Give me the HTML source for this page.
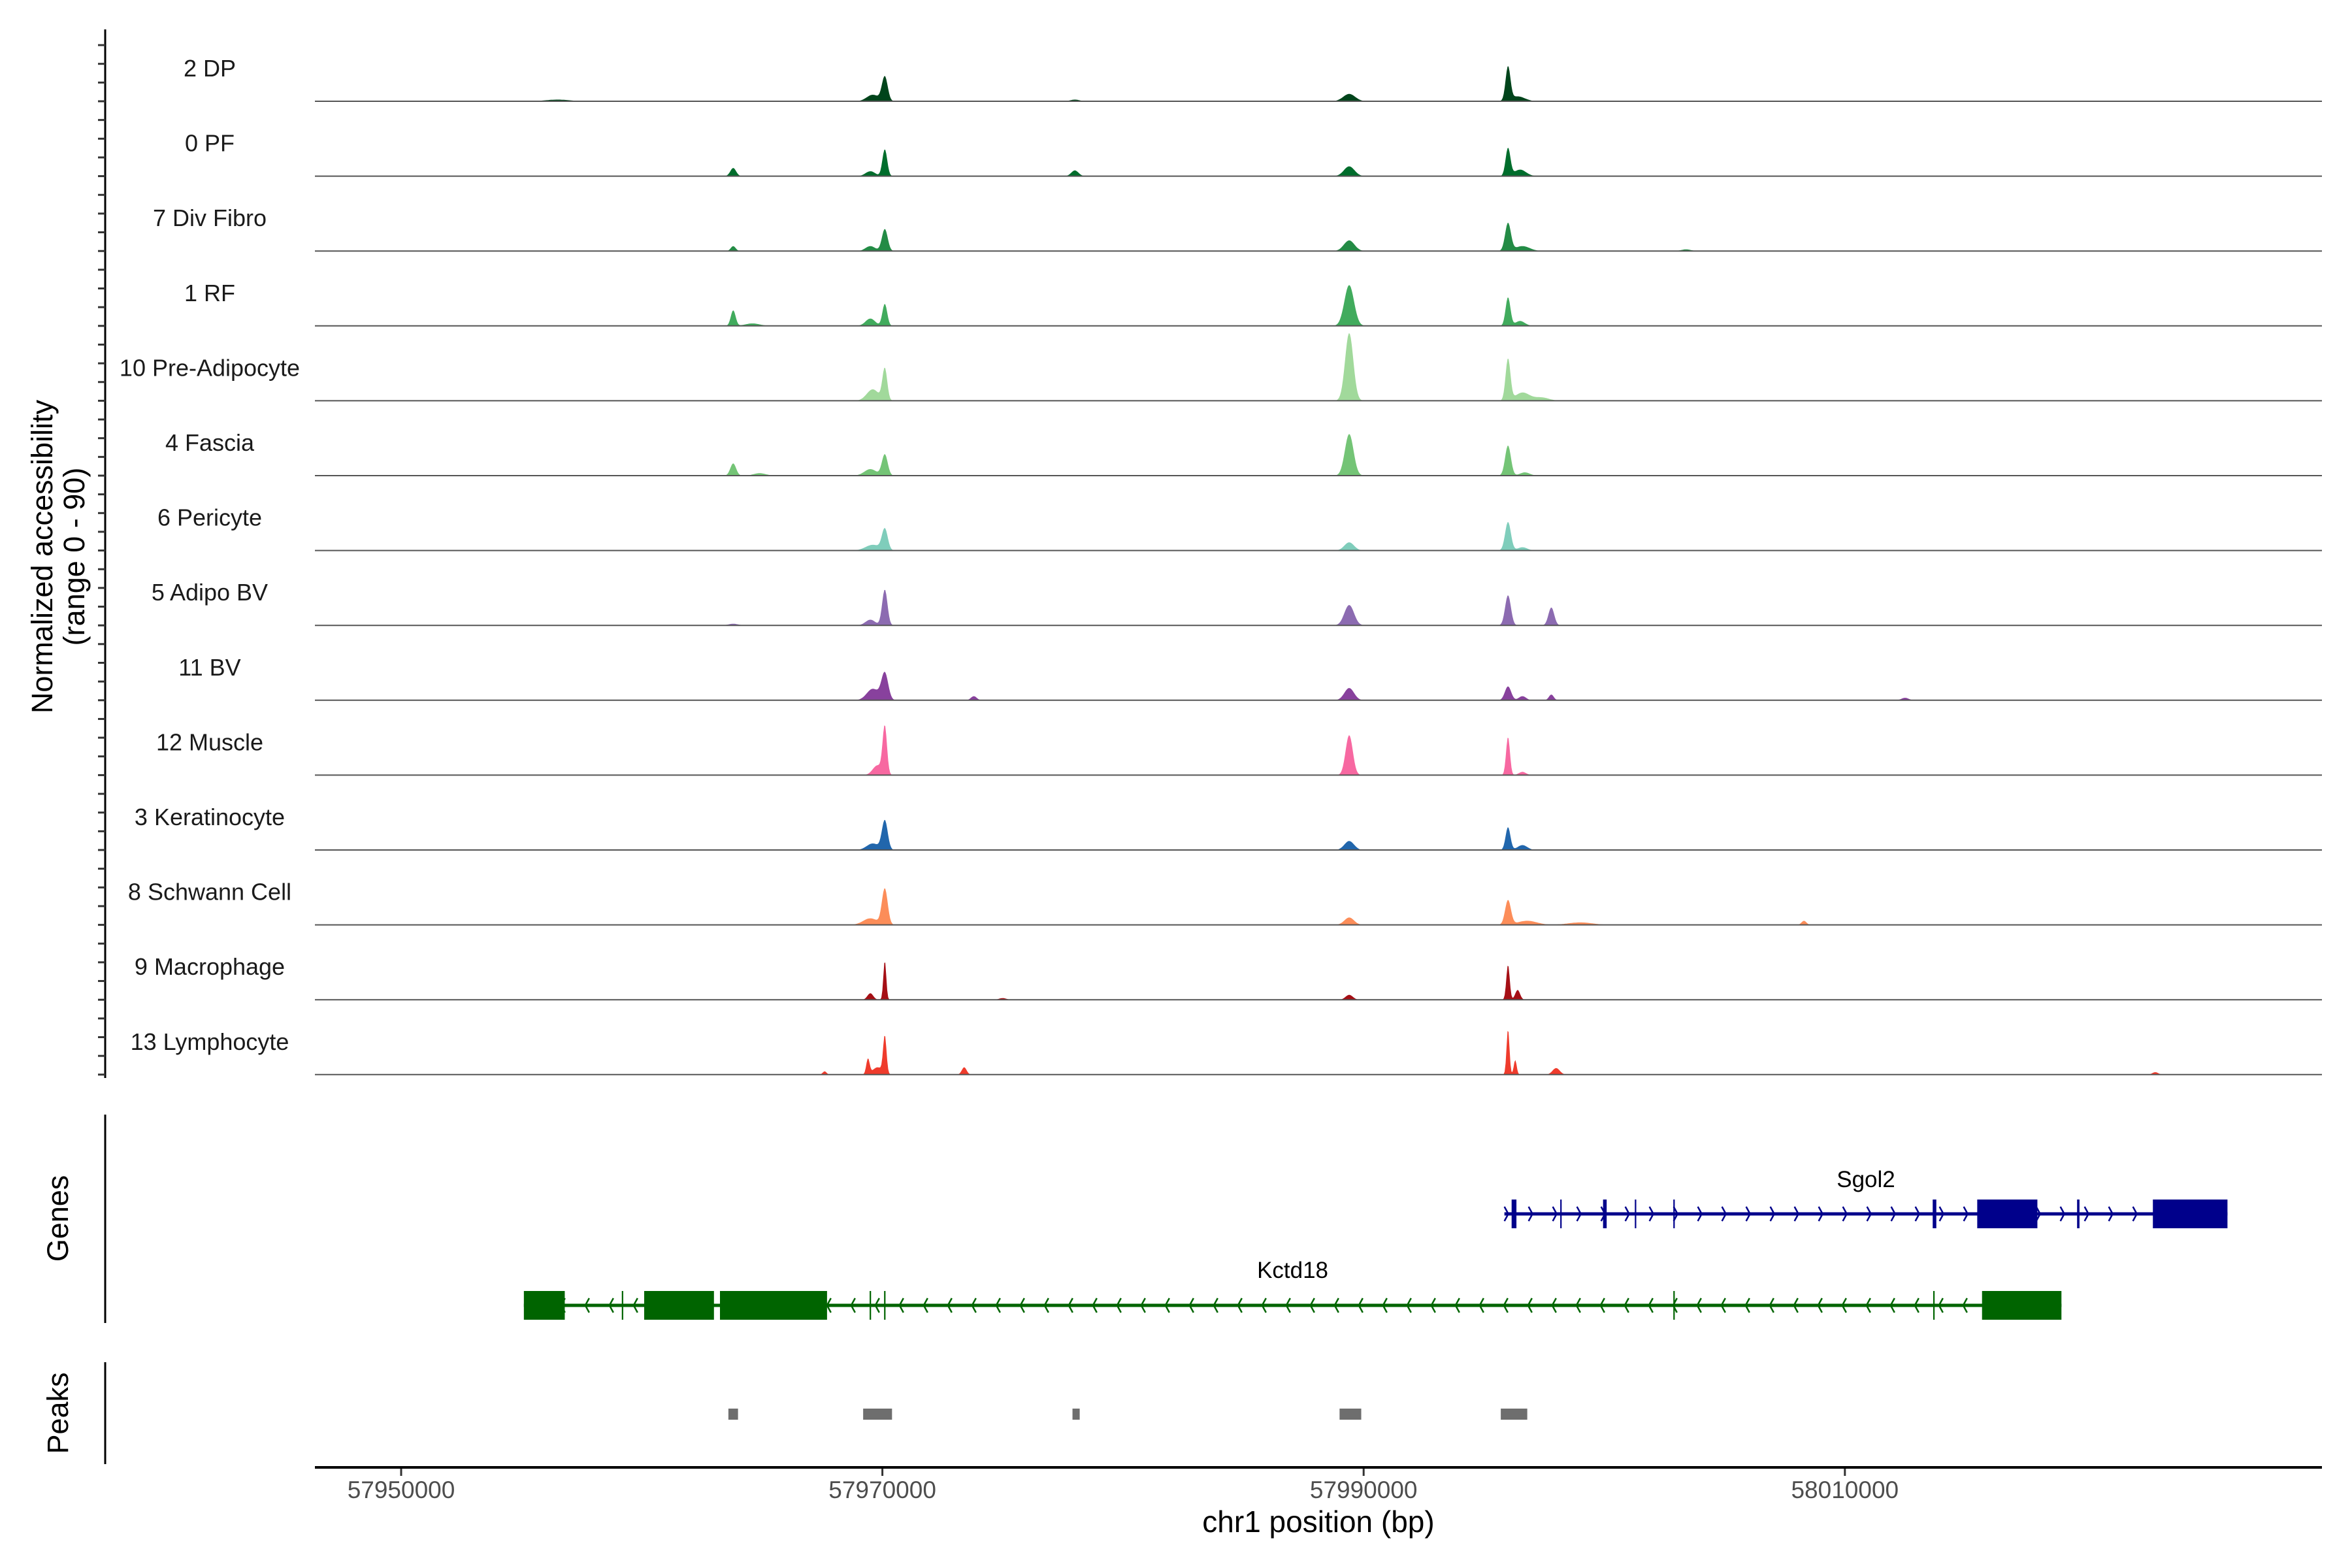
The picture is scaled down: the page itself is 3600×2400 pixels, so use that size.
<!DOCTYPE html>
<html><head><meta charset="utf-8"><style>
html,body{margin:0;padding:0;background:#fff}
svg{display:block}
text{font-family:"Liberation Sans",Arial,sans-serif}
</style></head><body>
<svg id="chart" width="3600" height="2400" viewBox="0 0 3600 2400" xmlns="http://www.w3.org/2000/svg">
<g id="tracks"></g>
<g id="genes"></g>
<g id="peaks"></g>
<g id="axes"></g>
<text transform="translate(80,852) rotate(-90)" text-anchor="middle" font-size="45" fill="#000">Normalized accessibility</text>
<text transform="translate(129,852) rotate(-90)" text-anchor="middle" font-size="45" fill="#000">(range 0 - 90)</text>
<text transform="translate(104,1865) rotate(-90)" text-anchor="middle" font-size="45" fill="#000">Genes</text>
<text transform="translate(104,2163) rotate(-90)" text-anchor="middle" font-size="45" fill="#000">Peaks</text>
<text x="2018" y="2345" text-anchor="middle" font-size="46" fill="#000">chr1 position (bp)</text>
</svg>
<script>
const trackNames = ["2 DP","0 PF","7 Div Fibro","1 RF","10 Pre-Adipocyte","4 Fascia","6 Pericyte","5 Adipo BV","11 BV","12 Muscle","3 Keratinocyte","8 Schwann Cell","9 Macrophage","13 Lymphocyte"];
const trackColors = ["#00441b","#006d2c","#238b45","#41ab5d","#a1d99b","#74c476","#7fcdbb","#8c6bb1","#88419d","#f768a1","#2166ac","#fc8d59","#a50f15","#ef3b2c"];
// peaks per track: [center kb, value (0-90), width kb]
const peaks0 = [[57970.1,30,0.12],[57969.6,8,0.25],[57989.4,9,0.25],[57996.0,41,0.1],[57996.4,6,0.3],[57978.0,2,0.2],[57956.5,2,0.5]];
const peaks1 = [[57970.1,33,0.1],[57969.5,6,0.2],[57963.8,10,0.12],[57978.0,7,0.15],[57989.4,12,0.22],[57996.0,34,0.1],[57996.5,8,0.25]];
const peaks2 = [[57970.1,27,0.12],[57969.5,6,0.2],[57963.8,6,0.1],[57989.4,13,0.22],[57996.0,34,0.12],[57996.6,6,0.3],[58003.4,2,0.2]];
const peaks3 = [[57970.1,27,0.1],[57969.5,9,0.2],[57963.8,19,0.1],[57964.6,3,0.3],[57989.4,50,0.2],[57996.0,35,0.1],[57996.5,6,0.2]];
const peaks4 = [[57970.1,39,0.1],[57969.6,14,0.25],[57989.4,83,0.17],[57996.0,51,0.1],[57996.6,10,0.3],[57997.4,4,0.3]];
const peaks5 = [[57970.1,26,0.12],[57969.5,8,0.25],[57963.8,15,0.12],[57964.9,3,0.25],[57989.4,51,0.18],[57996.0,37,0.12],[57996.7,4,0.2]];
const peaks6 = [[57970.1,26,0.12],[57969.6,7,0.3],[57989.4,10,0.2],[57996.0,35,0.12],[57996.6,4,0.2]];
const peaks7 = [[57970.1,44,0.11],[57969.5,7,0.2],[57989.4,25,0.2],[57996.0,37,0.12],[57997.8,22,0.12],[57963.8,2,0.2]];
const peaks8 = [[57970.1,33,0.14],[57969.6,14,0.25],[57973.8,5,0.12],[57989.4,15,0.2],[57996.0,17,0.13],[57996.6,5,0.15],[57997.8,7,0.1],[58012.5,3,0.15]];
const peaks9 = [[57970.1,58,0.09],[57969.8,12,0.2],[57989.4,49,0.15],[57996.0,47,0.08],[57996.6,4,0.15]];
const peaks10 = [[57970.1,36,0.12],[57969.6,8,0.25],[57989.4,11,0.2],[57996.0,28,0.1],[57996.6,6,0.2]];
const peaks11 = [[57970.1,44,0.12],[57969.5,8,0.3],[57989.4,9,0.2],[57996.0,30,0.12],[57996.8,5,0.4],[57999.0,3,0.5],[58008.3,5,0.1]];
const peaks12 = [[57970.1,48,0.06],[57969.5,8,0.12],[57989.4,6,0.15],[57996.0,43,0.07],[57996.4,12,0.1],[57975.0,2,0.15]];
const peaks13 = [[57970.1,46,0.07],[57969.4,19,0.07],[57969.8,9,0.2],[57973.4,9,0.1],[57996.0,56,0.06],[57996.3,18,0.06],[57998.0,8,0.15],[58022.9,3,0.12],[57967.6,4,0.08]];
const trackPeaks = [peaks0,peaks1,peaks2,peaks3,peaks4,peaks5,peaks6,peaks7,peaks8,peaks9,peaks10,peaks11,peaks12,peaks13];
const xTicks = [57950000,57970000,57990000,58010000];
const peakRegions = [[57963.6,57964.0],[57969.2,57970.4],[57977.9,57978.2],[57989.0,57989.9],[57995.7,57996.8]];
const sgol2Span = [57995.85,58025.9];
const sgol2Exons = [[57996.15,57996.35],[57998.17,57998.23],[57999.95,58000.1],[58001.27,58001.33],[58002.87,58002.93],[58013.65,58013.8],[58015.5,58018.0],[58019.65,58019.75],[58022.8,58025.9]];
const kctd18Span = [57955.1,58019.0];
const kctd18Exons = [[57955.1,57956.8],[57959.17,57959.23],[57960.1,57963.0],[57963.25,57967.7],[57969.47,57969.53],[57970.07,57970.13],[58002.87,58002.93],[58013.67,58013.73],[58015.7,58019.0]];

const NS="http://www.w3.org/2000/svg";
const X0=482, X1=3554, BASE0=155, STEP=114.6;
function xs(kb){ return 614 + (kb-57950)*36.83; }
function ys(v){ return v*1.25; }
function mk(tag, attrs, parent){ const e=document.createElementNS(NS,tag); for(const k in attrs) e.setAttribute(k,attrs[k]); parent.appendChild(e); return e; }

const tracks=document.getElementById('tracks');
trackNames.forEach((name,i)=>{
  const base=BASE0+i*STEP;
  const g=mk('g',{},tracks);
  
  
  let d='M'+X0+','+base;
  const pk=trackPeaks[i];
  for(let px=X0;px<=X1;px+=1.5){
    const kb=57950+(px-614)/36.83;
    let v=0;
    pk.forEach(p=>{ const z=(kb-p[0])/p[2]; if(Math.abs(z)<6) v+=p[1]*Math.exp(-z*z/2); });
    d+=' L'+px.toFixed(1)+','+(base-ys(v)).toFixed(1);
  }
  d+=' L'+X1+','+base+' Z';
  const area=mk('path',{d:d,fill:trackColors[i],stroke:'none'},g);
  
  
  const bl=mk('line',{x1:X0,x2:X1,y1:base,y2:base,stroke:'#555','stroke-width':2},g);
  
  
  const t=mk('text',{x:321,y:base-38,'text-anchor':'middle','font-size':36,fill:'#1a1a1a'},g);
  t.textContent=name;
  
  
});

const axes=document.getElementById('axes');
let la=mk('line',{x1:161,x2:161,y1:45,y2:1650,stroke:'#000','stroke-width':3},axes);


for(let i=0;i<14;i++){ for(let k=0;k<4;k++){ const y=BASE0+i*STEP-k*28.65;
  const tk=mk('line',{x1:150,x2:161,y1:y,y2:y,stroke:'#333','stroke-width':3},axes);
  
   } }
let ga=mk('line',{x1:161,x2:161,y1:1706,y2:2025,stroke:'#000','stroke-width':3},axes);


let pa=mk('line',{x1:161,x2:161,y1:2085,y2:2241,stroke:'#000','stroke-width':3},axes);


let xa=mk('line',{x1:X0,x2:X1,y1:2246,y2:2246,stroke:'#000','stroke-width':4},axes);


xTicks.forEach(v=>{
  const x=xs(v/1000);
  const tk=mk('line',{x1:x,x2:x,y1:2248,y2:2259,stroke:'#333','stroke-width':3},axes);
  
  
  const t=mk('text',{x:x,y:2293,'text-anchor':'middle','font-size':37,fill:'#4d4d4d'},axes);
  t.textContent=String(v);
  
  
});

const genes=document.getElementById('genes');
function drawGene(name,span,exons,y,color,dir,labelY){
  const g=mk('g',{},genes);
  
  
  const s=xs(span[0]), e=xs(span[1]);
  mk('line',{x1:s,x2:e,y1:y,y2:y,stroke:color,'stroke-width':5},g);
  for(let x=s+(dir>0?6:20);x<e-10;x+=37){
    const dx=dir>0?-6:6;
    mk('path',{d:'M'+(x+dx)+','+(y-11)+' L'+x+','+y+' L'+(x+dx)+','+(y+11),fill:'none',stroke:color,'stroke-width':2.5},g);
  }
  exons.forEach(ex=>{
    const a=xs(ex[0]), b=xs(ex[1]);
    const r=mk('rect',{x:a,y:y-22,width:Math.max(2,b-a),height:44,fill:color},g);
    
    
  });
  const t=mk('text',{x:(s+e)/2,y:labelY,'text-anchor':'middle','font-size':35,fill:'#000'},g);
  t.textContent=name;
  
  
}
drawGene('Sgol2',sgol2Span,sgol2Exons,1858,'#00008b',1,1817);
drawGene('Kctd18',kctd18Span,kctd18Exons,1998,'#006400',-1,1956);

const pg=document.getElementById('peaks');
peakRegions.forEach(p=>{
  const a=xs(p[0]), b=xs(p[1]);
  const r=mk('rect',{x:a,y:2156,width:Math.max(8,b-a),height:17,fill:'#6e6e6e'},pg);
  
  
});
</script>
</body></html>
